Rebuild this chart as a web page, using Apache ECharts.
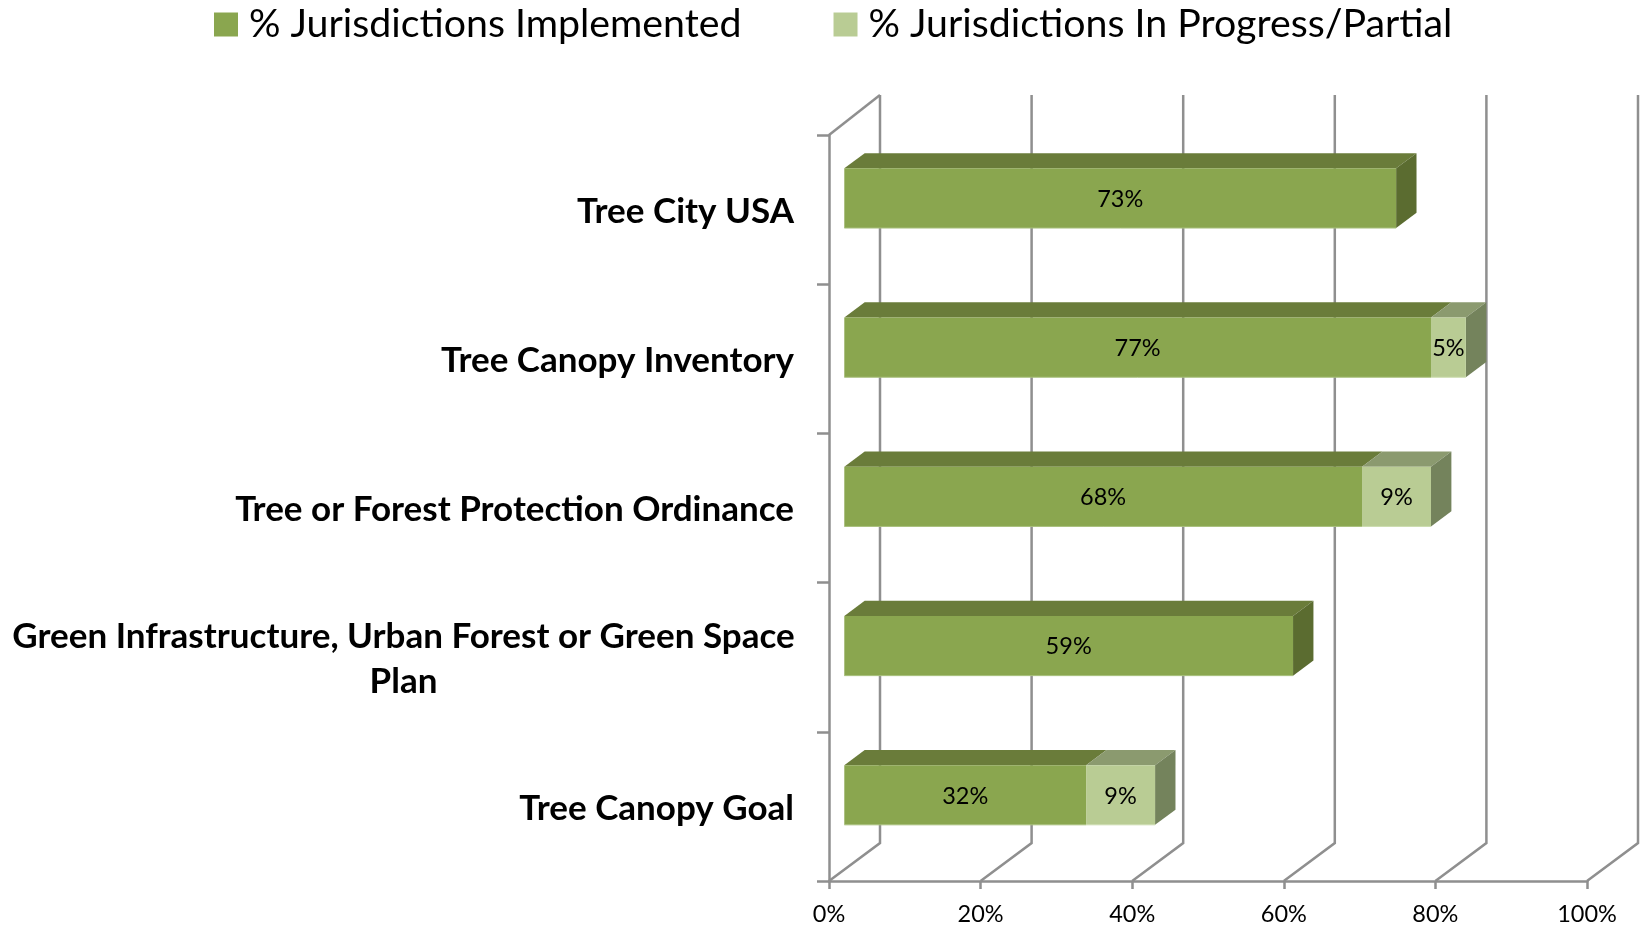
<!DOCTYPE html>
<html>
<head>
<meta charset="utf-8">
<style>
  html, body { margin: 0; padding: 0; background: #fff; }
  #chart { width: 1643px; height: 927px; }
</style>
<script src="https://cdn.jsdelivr.net/npm/echarts@6/dist/echarts.min.js"></script>
</head>
<body>
<div id="chart"></div>
<script>
const categories = [
  "Tree City USA",
  "Tree Canopy Inventory",
  "Tree or Forest Protection Ordinance",
  "Green Infrastructure, Urban Forest or Green Space\nPlan",
  "Tree Canopy Goal",
];
// the labels show them rounded
const implemented = [72.8, 77.4, 68.3, 59.2, 31.9];
const inProgress = [0, 4.6, 9.1, 0, 9.1];
const xTicks = [0, 20, 40, 60, 80, 100];

const seriesNames = ["% Jurisdictions Implemented", "% Jurisdictions In Progress/Partial"];
const fontName = "Lato, Carlito, sans-serif";
const gridColor = "#8f8f8f";

// 3d look: wall depth in px, bar sits between 0.3 and 0.7 of it
const wallX = 51, wallY = 38;
const barNear = 0.3, barFar = 0.7, barHeight = 0.4;

const myChart = echarts.init(document.getElementById("chart"));

// floor + back wall lines
const renderWall = (params, api) => {
  const c = api.coord([api.value(0), 0]);
  const sys = params.coordSys;
  const bottom = sys.y + sys.height, top = sys.y;
  const children = [
    {
      type: "polyline",
      shape: {
        points: [
          [c[0], bottom],
          [c[0] + wallX, bottom - wallY],
          [c[0] + wallX, top - wallY - 2],
        ],
      },
      style: { stroke: gridColor, lineWidth: 2.5, fill: null },
    },
  ];
  // only the left wall is closed at the top
  if (api.value(0) === 0) {
    children.push({
      type: "line",
      shape: { x1: c[0], y1: top, x2: c[0] + wallX, y2: top - wallY - 2 },
      style: { stroke: gridColor, lineWidth: 2.5 },
    });
  }
  return { type: "group", children: children };
};

// one bar segment, data item = [start, end, categoryIndex, showSide]
const makeBarRender = (front, top, side, edge) => (params, api) => {
  const start = api.value(0), end = api.value(1), cat = api.value(2);
  const centre = api.coord([start, cat]);
  const endPt = api.coord([end, cat]);
  const band = api.size([0, 1])[1];
  const h = band * barHeight;
  const x0 = centre[0] + wallX * barNear;
  const x1 = endPt[0] + wallX * barNear;
  const y0 = centre[1] - wallY * barNear - h / 2;
  const y1 = y0 + h;
  const dx = wallX * (barFar - barNear), dy = wallY * (barFar - barNear);
  const children = [
    {
      type: "polygon",
      shape: { points: [[x0, y0], [x1, y0], [x1 + dx, y0 - dy], [x0 + dx, y0 - dy]] },
      style: { fill: top },
    },
  ];
  if (api.value(3)) {
    children.push({
      type: "polygon",
      shape: { points: [[x1, y0], [x1 + dx, y0 - dy], [x1 + dx, y1 - dy], [x1, y1]] },
      style: { fill: side },
    });
  }
  children.push({
    type: "rect",
    shape: { x: x0, y: y0, width: x1 - x0, height: h },
    style: { fill: front },
  });
  // faint light edge along the bottom of the front face
  children.push({
    type: "line",
    shape: { x1: x0, y1: y1, x2: x1, y2: y1 },
    style: { stroke: edge, lineWidth: 1 },
  });
  children.push({
    type: "text",
    style: {
      x: (x0 + x1) / 2,
      y: (y0 + y1) / 2 + 1,
      text: Math.round(end - start) + "%",
      fill: "#000",
      font: "23.5px " + fontName,
      align: "center",
      verticalAlign: "middle",
    },
  });
  return { type: "group", children: children };
};

const implementedData = implemented.map((v, i) => [0, v, i, inProgress[i] ? 0 : 1]);
const inProgressData = inProgress
  .map((v, i) => [implemented[i], implemented[i] + v, i, 1])
  .filter((d) => d[1] > d[0]);

const option = {
  animation: false,
  backgroundColor: "#fff",
  textStyle: { fontFamily: fontName },
  legend: {
    left: 209,
    top: 5,
    padding: [0, 0, 0, 5],
    itemWidth: 24,
    itemHeight: 24,
    itemGap: 92,
    textStyle: { fontSize: 39.3, color: "#000", fontFamily: fontName, padding: [0, 0, 0, 6] },
    data: [
      { name: seriesNames[0], icon: "rect", itemStyle: { color: "#8aa64f" } },
      { name: seriesNames[1], icon: "rect", itemStyle: { color: "#b9cc94" } },
    ],
  },
  grid: { left: 829, top: 135, width: 758, height: 746 },
  xAxis: {
    type: "value",
    min: 0,
    max: 100,
    interval: 20,
    splitLine: { show: false },
    axisLine: { show: true, lineStyle: { color: gridColor, width: 2.5 } },
    axisTick: { show: true, length: 8, lineStyle: { color: gridColor, width: 2.5 } },
    axisLabel: {
      formatter: "{value}%",
      fontSize: 23.5,
      color: "#000",
      margin: 21,
      fontFamily: fontName,
    },
  },
  yAxis: {
    type: "category",
    inverse: true,
    data: categories,
    axisLine: { show: true, onZero: false, lineStyle: { color: gridColor, width: 2.5 } },
    axisTick: { show: true, length: 12, lineStyle: { color: gridColor, width: 2.5 } },
    axisLabel: {
      margin: 35,
      fontSize: 35,
      fontWeight: "bold",
      color: "#000",
      fontFamily: fontName,
      lineHeight: 45,
      padding: [4, 0, 0, 0],
      formatter: (v) =>
        v.includes("\n") ? v.split("\n").map((s) => "{c|" + s + "}").join("\n") : v,
      rich: {
        c: {
          width: 781,
          align: "center",
          fontSize: 35,
          fontWeight: "bold",
          lineHeight: 45,
          fontFamily: fontName,
          color: "#000",
        },
      },
    },
  },
  series: [
    {
      name: "wall",
      type: "custom",
      z: 1,
      silent: true,
      data: xTicks.map((t) => [t]),
      encode: { x: 0 },
      renderItem: renderWall,
    },
    {
      name: seriesNames[0],
      type: "custom",
      z: 3,
      data: implementedData,
      encode: { x: [0, 1], y: 2 },
      renderItem: makeBarRender("#8aa64f", "#6a7c3a", "#5b6c30", "#a9c07e"),
    },
    {
      name: seriesNames[1],
      type: "custom",
      z: 4,
      data: inProgressData,
      encode: { x: [0, 1], y: 2 },
      renderItem: makeBarRender("#b9cc94", "#8b9a6f", "#74835c", "#cddcb0"),
    },
  ],
};
myChart.setOption(option);
</script>
</body>
</html>
